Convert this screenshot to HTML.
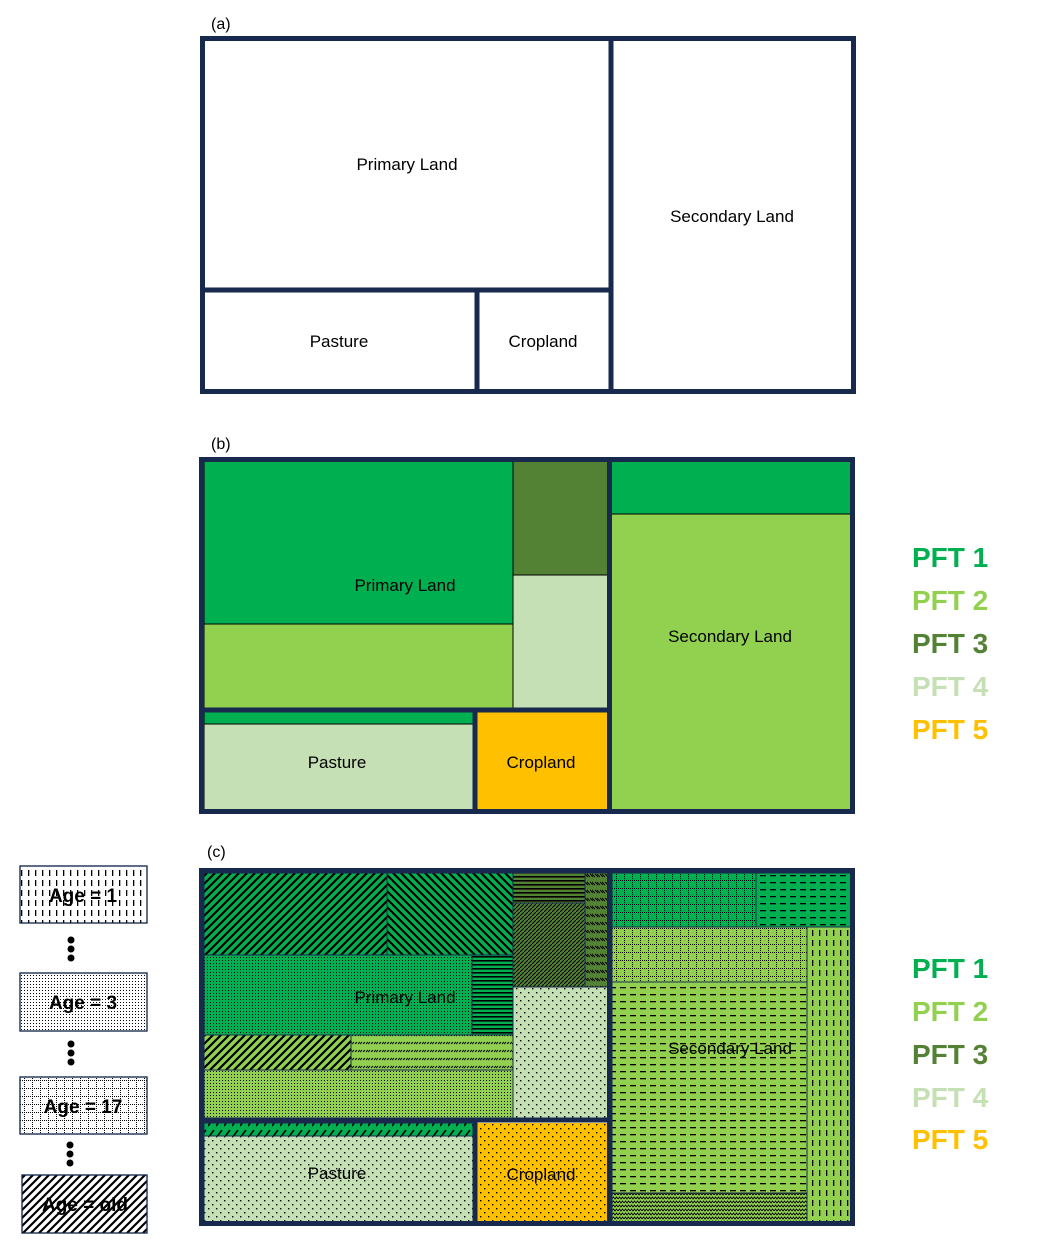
<!DOCTYPE html>
<html><head><meta charset="utf-8"><style>
html,body{margin:0;padding:0;background:#fff;}
svg{display:block;}
text{font-family:"Liberation Sans",sans-serif;}
</style></head><body>
<svg width="1041" height="1247" viewBox="0 0 1041 1247" xmlns="http://www.w3.org/2000/svg">
<defs>
<pattern id="dfw" width="8" height="8" patternUnits="userSpaceOnUse"><path d="M-2,10 L10,-2 M-2,2 L2,-2 M6,10 L10,6" stroke="#000" stroke-width="2.2"/></pattern>
<pattern id="dbw" width="8" height="8" patternUnits="userSpaceOnUse"><path d="M-2,-2 L10,10 M6,-2 L10,2 M-2,6 L2,10" stroke="#000" stroke-width="2.2"/></pattern>
<pattern id="dfine" width="4" height="4" patternUnits="userSpaceOnUse"><path d="M-1,5 L5,-1" stroke="#000" stroke-width="1"/></pattern>
<pattern id="dense" width="3" height="3" patternUnits="userSpaceOnUse"><rect width="1" height="1" fill="#000"/></pattern>
<pattern id="sparse" width="8" height="8" patternUnits="userSpaceOnUse"><rect width="1.4" height="1.4" fill="#000"/><rect x="4" y="4" width="1.4" height="1.4" fill="#000"/></pattern>
<pattern id="hl" width="4" height="4" patternUnits="userSpaceOnUse"><rect width="4" height="1.6" fill="#000"/></pattern>
<pattern id="hdash" width="10" height="7" patternUnits="userSpaceOnUse"><rect width="6" height="1.3" fill="#000"/></pattern>
<pattern id="vdash" width="7" height="10" patternUnits="userSpaceOnUse"><rect width="1.3" height="6" fill="#000"/></pattern>
<pattern id="grid" width="8" height="8" patternUnits="userSpaceOnUse"><path d="M0,0.5 H8 M0.5,0 V8" stroke="#000" stroke-width="1" stroke-dasharray="1,1"/></pattern>
<pattern id="hdd" width="8" height="8" patternUnits="userSpaceOnUse"><path d="M0,4 l2,-2 M3,4 l2,-2 M6,4 l2,-2" stroke="#000" stroke-width="1"/></pattern>
<pattern id="zig" width="6" height="4" patternUnits="userSpaceOnUse"><path d="M0,3 L1.5,1 L3,3 L4.5,1 L6,3" stroke="#000" stroke-width="0.9" fill="none"/></pattern>
<pattern id="cross" width="8" height="12" patternUnits="userSpaceOnUse"><path d="M0,10 L6,2" stroke="#000" stroke-width="1.6"/></pattern>
<pattern id="smallz" width="5" height="8" patternUnits="userSpaceOnUse"><path d="M0,2 L3,5 M2,2 L5,5" stroke="#000" stroke-width="0.9"/></pattern>
</defs>

<!-- (a) -->
<text x="211" y="29" font-size="16">(a)</text>
<g fill="none" stroke="#172a4e" stroke-width="5">
<rect x="202.5" y="38.5" width="651" height="353"/>
<line x1="611" y1="38" x2="611" y2="392"/>
<line x1="202" y1="290" x2="611" y2="290"/>
<line x1="477" y1="290" x2="477" y2="392"/>
</g>
<g font-size="17" text-anchor="middle">
<text x="407" y="170">Primary Land</text>
<text x="732" y="222">Secondary Land</text>
<text x="339" y="347">Pasture</text>
<text x="543" y="347">Cropland</text>
</g>

<!-- (b) -->
<text x="211" y="449" font-size="16">(b)</text>
<g stroke="#000" stroke-width="1">
<rect x="204" y="461" width="309" height="163" fill="#00b050"/>
<rect x="204" y="624" width="309" height="84" fill="#92d050"/>
<rect x="513" y="461" width="95" height="114" fill="#548235"/>
<rect x="513" y="575" width="95" height="133" fill="#c5e0b4"/>
<rect x="611" y="461" width="240" height="53" fill="#00b050"/>
<rect x="611" y="514" width="240" height="296" fill="#92d050"/>
<rect x="204" y="712" width="269" height="12" fill="#00b050"/>
<rect x="204" y="724" width="269" height="86" fill="#c5e0b4"/>
<rect x="477" y="712" width="131" height="98" fill="#ffc000" stroke="none"/>
</g>
<g fill="none" stroke="#172a4e" stroke-width="5">
<rect x="201.5" y="459.5" width="651" height="352"/>
<line x1="609.5" y1="459" x2="609.5" y2="812"/>
<line x1="202" y1="710" x2="610" y2="710"/>
<line x1="475" y1="710" x2="475" y2="812"/>
</g>
<g font-size="17" text-anchor="middle">
<text x="405" y="591">Primary Land</text>
<text x="730" y="642">Secondary Land</text>
<text x="337" y="768">Pasture</text>
<text x="541" y="768">Cropland</text>
</g>
<g font-size="28" font-weight="bold">
<text x="912" y="567" fill="#00b050">PFT 1</text>
<text x="912" y="610" fill="#92d050">PFT 2</text>
<text x="912" y="653" fill="#548235">PFT 3</text>
<text x="912" y="696" fill="#c5e0b4">PFT 4</text>
<text x="912" y="739" fill="#ffc000">PFT 5</text>
</g>

<!-- (c) -->
<text x="207" y="857" font-size="16">(c)</text>
<g stroke="#172a4e" stroke-width="1">
<rect x="204" y="873" width="183" height="82" fill="#00b050"/><rect x="204" y="873" width="183" height="82" fill="url(#dfw)"/>
<rect x="387" y="873" width="126" height="82" fill="#00b050"/><rect x="387" y="873" width="126" height="82" fill="url(#dbw)"/>
<rect x="204" y="955" width="268" height="80" fill="#00b050"/><rect x="204" y="955" width="268" height="80" fill="url(#dense)"/>
<rect x="472" y="955" width="41" height="80" fill="#00b050"/><rect x="472" y="955" width="41" height="80" fill="url(#hl)"/>
<rect x="204" y="1035" width="147" height="35" fill="#92d050"/><rect x="204" y="1035" width="147" height="35" fill="url(#dfw)"/>
<rect x="351" y="1035" width="162" height="35" fill="#92d050"/><rect x="351" y="1035" width="162" height="35" fill="url(#hdd)"/>
<rect x="204" y="1070" width="309" height="48" fill="#92d050"/><rect x="204" y="1070" width="309" height="48" fill="url(#dense)"/>
<rect x="513" y="873" width="72" height="30" fill="#548235"/><rect x="513" y="873" width="72" height="30" fill="url(#hl)"/>
<rect x="513" y="903" width="72" height="84" fill="#548235"/><rect x="513" y="903" width="72" height="84" fill="url(#dfine)"/>
<rect x="585" y="873" width="23" height="114" fill="#548235"/><rect x="585" y="873" width="23" height="114" fill="url(#smallz)"/>
<rect x="513" y="987" width="95" height="131" fill="#c5e0b4"/><rect x="513" y="987" width="95" height="131" fill="url(#sparse)"/>
<rect x="612" y="873" width="144" height="54" fill="#00b050"/><rect x="612" y="873" width="144" height="54" fill="url(#grid)"/>
<rect x="756" y="873" width="95" height="54" fill="#00b050"/><rect x="756" y="873" width="95" height="54" fill="url(#hdash)"/>
<rect x="612" y="927" width="195" height="55" fill="#92d050"/><rect x="612" y="927" width="195" height="55" fill="url(#grid)"/>
<rect x="612" y="982" width="195" height="211" fill="#92d050"/><rect x="612" y="982" width="195" height="211" fill="url(#hdash)"/>
<rect x="612" y="1193" width="195" height="29" fill="#92d050"/><rect x="612" y="1193" width="195" height="29" fill="url(#zig)"/>
<rect x="807" y="927" width="44" height="295" fill="#92d050"/><rect x="807" y="927" width="44" height="295" fill="url(#vdash)"/>
<rect x="204" y="1123" width="269" height="13" fill="#00b050"/><rect x="204" y="1123" width="269" height="13" fill="url(#cross)"/>
<rect x="204" y="1136" width="269" height="86" fill="#c5e0b4"/><rect x="204" y="1136" width="269" height="86" fill="url(#sparse)"/>
<rect x="477" y="1123" width="131" height="99" fill="#ffc000" stroke="none"/><rect x="477" y="1123" width="131" height="99" fill="url(#sparse)" stroke="none"/>
</g>
<g fill="none" stroke="#172a4e" stroke-width="5">
<rect x="201.5" y="870.5" width="651" height="353"/>
<line x1="609.5" y1="870" x2="609.5" y2="1224"/>
<line x1="202" y1="1120" x2="610" y2="1120"/>
<line x1="475" y1="1120" x2="475" y2="1224"/>
</g>
<g font-size="17" text-anchor="middle">
<text x="405" y="1003">Primary Land</text>
<text x="730" y="1054">Secondary Land</text>
<text x="337" y="1179">Pasture</text>
<text x="541" y="1180">Cropland</text>
</g>
<g font-size="28" font-weight="bold">
<text x="912" y="978" fill="#00b050">PFT 1</text>
<text x="912" y="1021" fill="#92d050">PFT 2</text>
<text x="912" y="1064" fill="#548235">PFT 3</text>
<text x="912" y="1107" fill="#c5e0b4">PFT 4</text>
<text x="912" y="1149" fill="#ffc000">PFT 5</text>
</g>

<!-- Age legend -->
<g stroke="#172a4e" stroke-width="1.2">
<rect x="20" y="866" width="127" height="57" fill="#fff"/><rect x="20" y="866" width="127" height="57" fill="url(#vdash)"/>
<rect x="20" y="973" width="127" height="58" fill="#fff"/><rect x="20" y="973" width="127" height="58" fill="url(#dense)"/>
<rect x="20" y="1077" width="127" height="57" fill="#fff"/><rect x="20" y="1077" width="127" height="57" fill="url(#grid)"/>
<rect x="22" y="1175" width="125" height="58" fill="#fff"/><rect x="22" y="1175" width="125" height="58" fill="url(#dfw)"/>
</g>
<g font-size="19" font-weight="bold" text-anchor="middle">
<text x="83" y="902">Age =  1</text>
<text x="83" y="1009">Age =  3</text>
<text x="83" y="1113">Age = 17</text>
<text x="85" y="1211">Age =  old</text>
</g>
<g fill="#000">
<circle cx="71" cy="940" r="3.5"/><circle cx="71" cy="949" r="3.5"/><circle cx="71" cy="958" r="3.5"/>
<circle cx="71" cy="1044" r="3.5"/><circle cx="71" cy="1053" r="3.5"/><circle cx="71" cy="1062" r="3.5"/>
<circle cx="70" cy="1145" r="3.5"/><circle cx="70" cy="1154" r="3.5"/><circle cx="70" cy="1163" r="3.5"/>
</g>
</svg>
</body></html>
